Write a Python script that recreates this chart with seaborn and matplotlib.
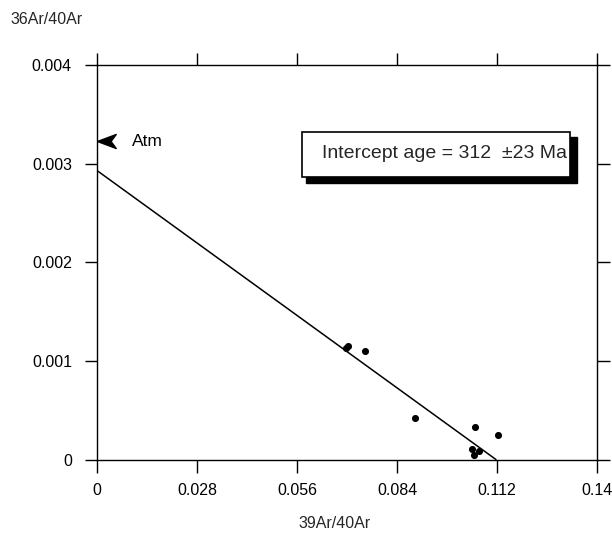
import matplotlib
matplotlib.use("Agg")
import matplotlib.pyplot as plt
import seaborn as sns
import pandas as pd
from matplotlib.patches import Rectangle

# ---- data ----
x_ratio = [0.0697, 0.0703, 0.0750, 0.0890, 0.1058, 0.1122, 0.1050, 0.1056, 0.1070]
y_ratio = [0.00113, 0.001154, 0.001104, 0.000425, 0.000334, 0.00025, 0.000104, 0.00005, 0.00009]
fit_x = [0.0, 0.1117]
fit_y = [0.00293, 0.0]
atm_x = [0.0]
atm_y = [0.00323]
x_ticks = [0, 0.028, 0.056, 0.084, 0.112, 0.14]
x_tick_labels = ["0", "0.028", "0.056", "0.084", "0.112", "0.14"]
y_ticks = [0, 0.001, 0.002, 0.003, 0.004]
y_tick_labels = ["0", "0.001", "0.002", "0.003", "0.004"]
box_text = "Intercept age = 312  \u00b123 Ma"

sns.set_theme(style="ticks")
plt.rcParams["font.family"] = ["Liberation Sans", "DejaVu Sans"]

W, H = 612, 535
fig = plt.figure(figsize=(W / 100, H / 100), dpi=100)
ax = fig.add_axes([97 / W, 1 - 459.5 / H, 500 / W, 394.5 / H])

df = pd.DataFrame({"x": x_ratio, "y": y_ratio})
sns.lineplot(x=fit_x, y=fit_y, ax=ax, color="black", linewidth=1.1)
sns.scatterplot(data=df, x="x", y="y", ax=ax, color="black", s=26,
                edgecolor="black", linewidth=0, zorder=5)

# Atm arrowhead marker (tip at origin)
arrow_marker = [(0, 0), (2, 0.75), (1.45, 0), (2, -0.75), (0, 0)]
ax.plot(atm_x, atm_y, linestyle="none", marker=arrow_marker,
        markersize=27, color="black", clip_on=False, zorder=6)
ax.text(132 / W, 1 - 141 / H, "Atm", transform=fig.transFigure,
        fontsize=12.5, ha="left", va="center", color="black")

ax.set_xlim(0, 0.14)
ax.set_ylim(0, 0.004)
ax.set_xticks(x_ticks)
ax.set_xticklabels(x_tick_labels)
ax.set_yticks(y_ticks)
ax.set_yticklabels(y_tick_labels)
ax.set_xlabel("")
ax.set_ylabel("")

for s in ax.spines.values():
    s.set_visible(True)
    s.set_linewidth(1.0)
    s.set_color("black")

ax.tick_params(axis="both", which="both", direction="out", length=9,
               width=1.0, color="black", labelsize=11.5, labelcolor="black",
               top=True, right=True, labeltop=False, labelright=False)
ax.tick_params(axis="x", pad=8)
ax.tick_params(axis="y", pad=9)

# Axis titles
fig.text(10 / W, 1 - 20 / H, "36Ar/40Ar", fontsize=11.5, ha="left", va="center")
fig.text(335 / W, 1 - 523 / H, "39Ar/40Ar", fontsize=11.5, ha="center", va="center")

# Shadowed text box
shadow = Rectangle((306 / W, 1 - 183 / H), (577 - 306) / W, (183 - 137) / H,
                   transform=fig.transFigure, facecolor="black",
                   edgecolor="black", zorder=10)
box = Rectangle((302 / W, 1 - 177 / H), (570 - 302) / W, (177 - 132) / H,
                transform=fig.transFigure, facecolor="white",
                edgecolor="black", linewidth=1.2, zorder=11)
fig.patches.extend([shadow, box])
fig.text(322 / W, 1 - 154 / H, box_text, fontsize=14, ha="left",
         va="center", zorder=12)

fig.savefig("out.png", dpi=100, facecolor="white")
